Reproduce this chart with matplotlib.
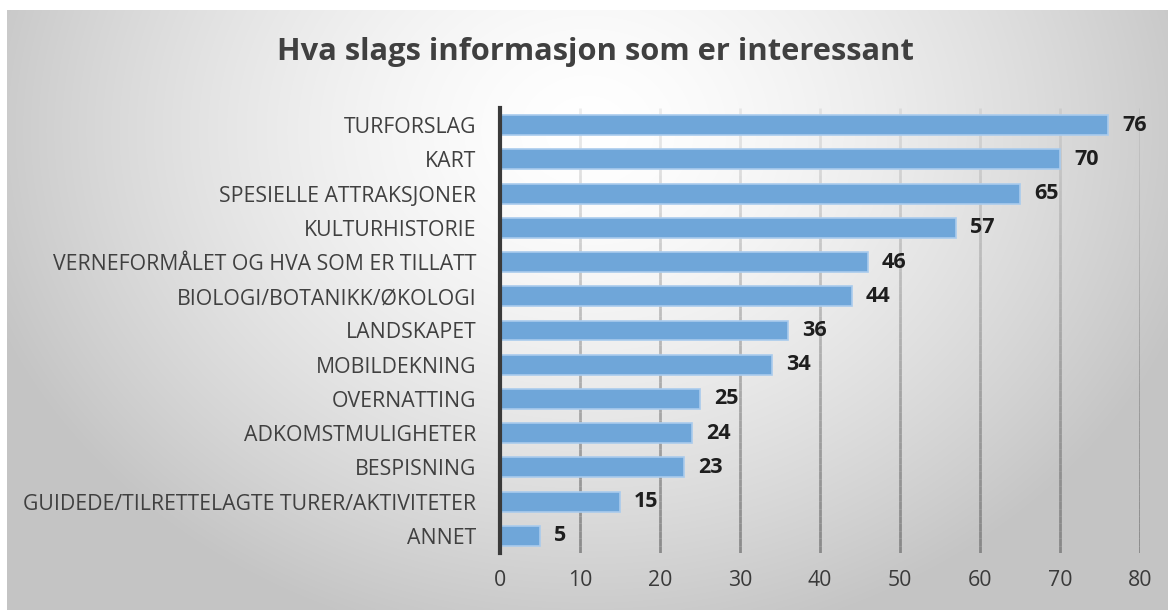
import matplotlib.pyplot as plt
import numpy as np
from matplotlib.collections import LineCollection

categories = [
    "TURFORSLAG",
    "KART",
    "SPESIELLE ATTRAKSJONER",
    "KULTURHISTORIE",
    "VERNEFORMÅLET OG HVA SOM ER TILLATT",
    "BIOLOGI/BOTANIKK/ØKOLOGI",
    "LANDSKAPET",
    "MOBILDEKNING",
    "OVERNATTING",
    "ADKOMSTMULIGHETER",
    "BESPISNING",
    "GUIDEDE/TILRETTELAGTE TURER/AKTIVITETER",
    "ANNET",
]
values = [76, 70, 65, 57, 46, 44, 36, 34, 25, 24, 23, 15, 5]
xticks = [0, 10, 20, 30, 40, 50, 60, 70, 80]

plt.rcParams['font.family'] = ['Open Sans', 'DejaVu Sans']

fig = plt.figure(figsize=(11.68, 6.10), dpi=100)

# radial gradient background for the chart frame
bg = fig.add_axes([7 / 1168, 0, 1 - 7 / 1168, 1 - 10 / 610])
yy, xx = np.mgrid[0:1:300j, 0:1:600j]
d = np.sqrt(((xx - 0.5) / 0.5) ** 2 + ((yy - 0.2) / 0.8) ** 2)
shade = np.clip(1 - 0.2 * d ** 1.5, 0.77, 1.0)
bg.imshow(np.dstack([shade] * 3), aspect='auto', extent=[0, 1, 1, 0],
          interpolation='bilinear')
bg.set_xlim(0, 1)
bg.set_ylim(1, 0)
bg.set_axis_off()

ax = fig.add_axes([500 / 1168, 57 / 610, 640 / 1168, 445 / 610])
ax.patch.set_alpha(0)

y = np.arange(len(categories))
ax.set_ylim(len(categories) - 0.5, -0.5)
ax.set_xlim(0, 80)

# gridlines fading from light at the top to darker at the bottom
n = 60
ys = np.linspace(-0.5, len(categories) - 0.5, n + 1)
for t in xticks[1:]:
    segs = [[(t, ys[i]), (t, ys[i + 1])] for i in range(n)]
    alphas = np.linspace(0.12, 0.75, n)
    cols = [(0.45, 0.45, 0.45, a) for a in alphas]
    ax.add_collection(LineCollection(segs, colors=cols, linewidths=2,
                                     zorder=1))

ax.barh(y, values, height=0.58, color='#6fa6d9', edgecolor='#a9cbed',
        linewidth=1.2, zorder=3)
for yi, v in zip(y, values):
    ax.annotate(str(v), (v, yi), xytext=(10, 0), textcoords='offset points',
                va='center', ha='left', fontsize=15.5, fontweight='bold',
                color='#1e1e1e', zorder=4)

ax.set_yticks(y)
ax.set_yticklabels(categories, fontsize=15.3, color='#404040')
ax.set_xticks(xticks)
ax.set_xticklabels([str(t) for t in xticks], fontsize=15.3, color='#3a3a3a')
ax.tick_params(axis='y', length=0, pad=17)
ax.tick_params(axis='x', length=0, pad=12)

for s in ['top', 'right', 'bottom']:
    ax.spines[s].set_visible(False)
ax.spines['left'].set_color('#3a3a3a')
ax.spines['left'].set_linewidth(3)
ax.spines['left'].set_zorder(5)

fig.text(595 / 1168, 1 - 52 / 610, "Hva slags informasjon som er interessant",
         ha='center', va='center', fontsize=22.2, fontweight='bold',
         color='#404040')

fig.savefig('out.png', dpi=100)
